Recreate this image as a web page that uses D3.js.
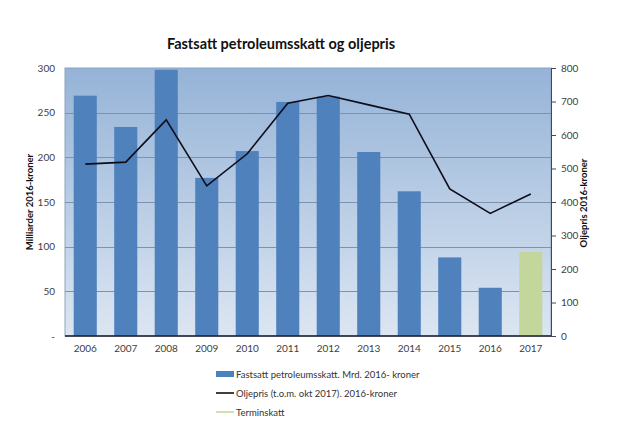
<!DOCTYPE html>
<html><head><meta charset="utf-8">
<script src="https://cdn.jsdelivr.net/npm/d3@7"></script>
<style>body{margin:0;background:#fff;}svg{display:block;font-family:Lato,"Open Sans",sans-serif;}</style>
</head><body><svg id="c" width="621" height="435"></svg>
<script>
const years = ["2006","2007","2008","2009","2010","2011","2012","2013","2014","2015","2016","2017"];
const skatt = [269,234,298,177,207,262,268,206,162,88,54,null];
const termin = [null,null,null,null,null,null,null,null,null,null,null,94];
const oljepris = [513,519,645,448,544,695,718,690,662,439,366,424];
const leftTicks = [0,50,100,150,200,250,300];
const rightTicks = [0,100,200,300,400,500,600,700,800];
const title = "Fastsatt petroleumsskatt og oljepris";
const leftTitle = "Milliarder 2016-kroner";
const rightTitle = "Oljepris 2016-kroner";
const legendLabels = ["Fastsatt petroleumsskatt. Mrd. 2016- kroner","Oljepris (t.o.m. okt 2017). 2016-kroner","Terminskatt"];

const svg = d3.select("#c");
const L=65,R=551,T=68,B=336;
const x = d3.scaleBand().domain(years).range([L,R]).paddingInner(0.43).paddingOuter(0.215);
const yL = d3.scaleLinear().domain([0,300]).range([B,T]);
const yR = d3.scaleLinear().domain([0,800]).range([B,T]);

const defs = svg.append("defs");
const g = defs.append("linearGradient").attr("id","bg").attr("x1",0).attr("y1",0).attr("x2",0).attr("y2",1);
g.append("stop").attr("offset","0%").attr("stop-color","#95b3d7");
g.append("stop").attr("offset","100%").attr("stop-color","#dce6f2");

svg.append("rect").attr("x",L).attr("y",T).attr("width",R-L).attr("height",B-T).attr("fill","url(#bg)").attr("stroke","#8ea3bf").attr("stroke-width",1);

// gridlines
svg.append("g").selectAll("line").data(leftTicks.filter(d=>d>0&&d<300)).join("line")
  .attr("x1",L).attr("x2",R).attr("y1",d=>Math.round(yL(d))+0.5).attr("y2",d=>Math.round(yL(d))+0.5)
  .attr("stroke","#7f92ad").attr("stroke-width",1);

// bars
svg.append("g").selectAll("rect").data(years.map((y,i)=>({y,v:skatt[i]})).filter(d=>d.v!=null)).join("rect")
  .attr("x",d=>x(d.y)).attr("width",x.bandwidth()).attr("y",d=>yL(d.v)).attr("height",d=>B-yL(d.v)).attr("fill","#4f81bd");
svg.append("g").selectAll("rect").data(years.map((y,i)=>({y,v:termin[i]})).filter(d=>d.v!=null)).join("rect")
  .attr("x",d=>x(d.y)).attr("width",x.bandwidth()).attr("y",d=>yL(d.v)).attr("height",d=>B-yL(d.v)).attr("fill","#c3d69b");

// line
const line = d3.line().x((d,i)=>x(years[i])+x.bandwidth()/2).y(d=>yR(d));
svg.append("path").datum(oljepris).attr("d",line).attr("fill","none").attr("stroke","#0d0d1a").attr("stroke-width",1.6);

// left axis
const axL = svg.append("g").attr("transform",`translate(${L},0)`)
  .call(d3.axisLeft(yL).tickValues(leftTicks).tickSize(0).tickPadding(10).tickFormat(d=>d===0?"-":d));
axL.select(".domain").remove();
axL.selectAll("text").attr("font-size",10).attr("fill","#404040").attr("font-family","Lato,sans-serif");

// right axis
const axR = svg.append("g").attr("transform",`translate(${R},0)`)
  .call(d3.axisRight(yR).tickValues(rightTicks).tickSize(5).tickPadding(5));
axR.select(".domain").attr("stroke","#404860");
axR.selectAll("line").attr("stroke","#404860");
axR.selectAll("text").attr("font-size",10).attr("fill","#404040").attr("font-family","Lato,sans-serif");

// bottom axis
const axB = svg.append("g").attr("transform",`translate(0,${B})`)
  .call(d3.axisBottom(x).tickSize(0).tickPadding(9));
axB.select(".domain").attr("stroke","#1a1a2a").attr("stroke-width",1.5).attr("d",`M${L},0H${R}`);
axB.selectAll("text").attr("font-size",10).attr("fill","#404040").attr("font-family","Lato,sans-serif");

// titles
svg.append("text").attr("x",281).attr("y",49).attr("text-anchor","middle").attr("font-size",14.5).attr("font-weight","bold").attr("fill","#111").text(title);
svg.append("text").attr("transform","translate(33,202) rotate(-90)").attr("text-anchor","middle").attr("font-size",9.5).attr("font-weight","bold").attr("fill","#111").text(leftTitle);
svg.append("text").attr("transform","translate(587,203) rotate(-90)").attr("text-anchor","middle").attr("font-size",9.5).attr("font-weight","bold").attr("fill","#111").text(rightTitle);

// legend
const lg = svg.append("g").attr("font-size",9.5).attr("fill","#333");
const ly = [374,393,412];
lg.append("rect").attr("x",216).attr("y",ly[0]-3).attr("width",18).attr("height",6).attr("fill","#4f81bd");
lg.append("line").attr("x1",216).attr("x2",234).attr("y1",ly[1]).attr("y2",ly[1]).attr("stroke","#000").attr("stroke-width",1.5);
lg.append("line").attr("x1",216).attr("x2",234).attr("y1",ly[2]).attr("y2",ly[2]).attr("stroke","#c3d69b").attr("stroke-width",1.5);
lg.selectAll("text").data(legendLabels).join("text").attr("x",236).attr("y",(d,i)=>ly[i]+3.5).text(d=>d);
</script></body></html>
